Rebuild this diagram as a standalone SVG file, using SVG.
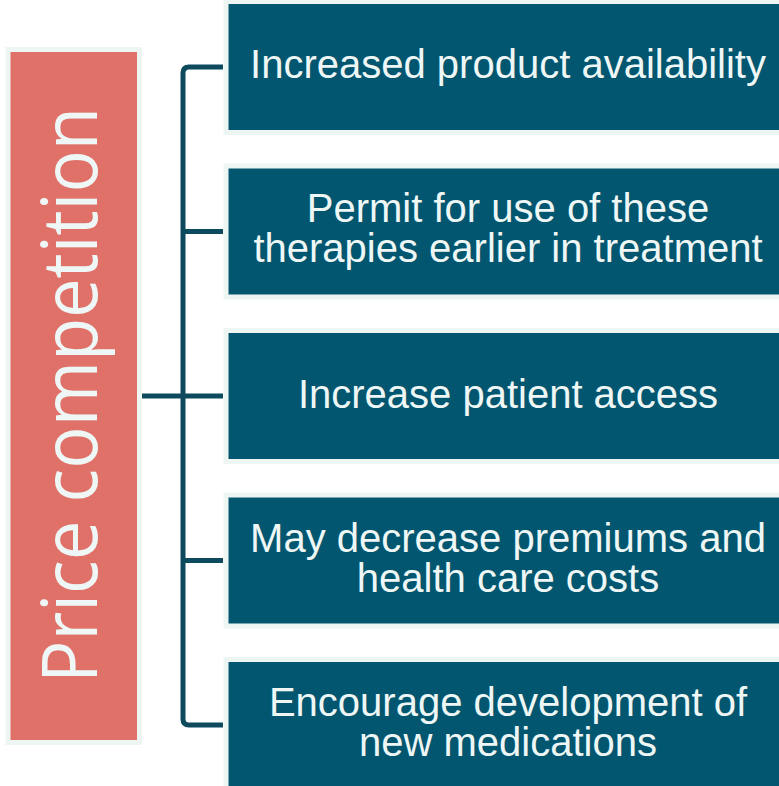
<svg xmlns="http://www.w3.org/2000/svg" width="779" height="786" viewBox="0 0 779 786">
  <style>
    .box { fill: #03566f; stroke: #eef6f4; stroke-width: 5; }
    .hub { fill: #e07169; stroke: #eef6f4; stroke-width: 5; }
    .label { font-family: "Liberation Sans", Arial, sans-serif; font-size: 40px; fill: #eef7f5; text-anchor: middle; }
    .title { font-family: "Open Sans", "Noto Sans", sans-serif; font-size: 77px; fill: #eef7f5; text-anchor: middle; }
    .wire { fill: none; stroke: #0d4a5d; stroke-width: 5; stroke-linejoin: round; }
  </style>
  <rect width="779" height="786" fill="#ffffff"/>

  <!-- central topic -->
  <g id="price-competition">
    <rect class="hub" x="8" y="49.5" width="131.5" height="693"/>
    <text class="title" transform="translate(97 395) rotate(-90)" x="0" y="0" textLength="576" lengthAdjust="spacingAndGlyphs">Price competition</text>
  </g>

  <!-- bracket connectors -->
  <g id="connectors">
    <path class="wire" d="M142 396 H183"/>
    <path class="wire" d="M223 67 H189 Q183 67 183 73 V719 Q183 725 189 725 H223"/>
    <path class="wire" d="M183 231.5 H223"/>
    <path class="wire" d="M183 396 H223"/>
    <path class="wire" d="M183 560.5 H223"/>
  </g>

  <g id="availability">
    <rect class="box" x="226" y="1.5" width="562" height="131"/>
    <text class="label" x="508" y="78">Increased product availability</text>
  </g>

  <g id="earlier-use">
    <rect class="box" x="226" y="166" width="562" height="131"/>
    <text class="label" x="508" y="221.5">Permit for use of these</text>
    <text class="label" x="508" y="261.5">therapies earlier in treatment</text>
  </g>

  <g id="patient-access">
    <rect class="box" x="226" y="330.5" width="562" height="131"/>
    <text class="label" x="508" y="408">Increase patient access</text>
  </g>

  <g id="lower-costs">
    <rect class="box" x="226" y="495" width="562" height="131"/>
    <text class="label" x="508" y="551.5">May decrease premiums and</text>
    <text class="label" x="508" y="591.5">health care costs</text>
  </g>

  <g id="new-medications">
    <rect class="box" x="226" y="659.5" width="562" height="131"/>
    <text class="label" x="508" y="715.5">Encourage development of</text>
    <text class="label" x="508" y="756">new medications</text>
  </g>
</svg>
